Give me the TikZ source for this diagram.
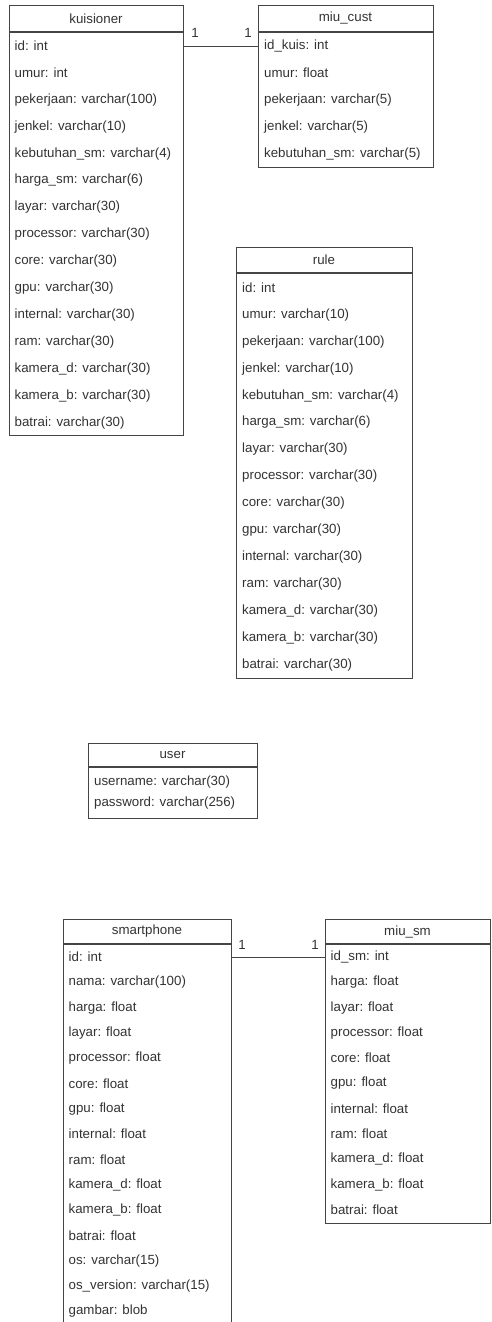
\documentclass[tikz,border=0pt]{standalone}
\usepackage{fontspec}
\setmainfont{Liberation Sans}
\definecolor{linec}{HTML}{454545}
\definecolor{textc}{HTML}{333333}
\newcommand{\attrfont}{\fontsize{13.3}{15}\selectfont}
\begin{document}
\begin{tikzpicture}[x=1pt,y=-1pt,
  tbl/.style={draw=linec, line width=0.9pt, inner sep=0pt, fill=white},
  hdr/.style={draw=linec, line width=1.5pt},
  attr/.style={anchor=west, inner sep=0pt, font=\attrfont, text=textc},
  ttl/.style={inner sep=0pt, font=\attrfont, text=textc},
  rel/.style={draw=linec, line width=0.9pt},
  card/.style={inner sep=0pt, font=\attrfont, text=textc}]
\useasboundingbox[fill=white] (0,0) rectangle (491,1322);

% kuisioner
\node[tbl, minimum width=174pt, minimum height=430pt] (kuis) at (96,220) {};
\draw[hdr] (9,32) -- (183,32);
\node[ttl] (kuisT) at (96,18.5) {kuisioner};
\foreach [count=\i] \t in {id: int, umur: int, pekerjaan: varchar(100), jenkel: varchar(10),
  kebutuhan\_sm: varchar(4), harga\_sm: varchar(6), layar: varchar(30), processor: varchar(30),
  core: varchar(30), gpu: varchar(30), internal: varchar(30), ram: varchar(30),
  kamera\_d: varchar(30), kamera\_b: varchar(30), batrai: varchar(30)}
  \node[attr] (k\i) at (14.5,{46+(\i-1)*26.9}) {\t};

% miu_cust
\node[tbl, minimum width=175pt, minimum height=162pt] (mc) at (345.5,86) {};
\draw[hdr] (258,32) -- (433,32);
\node[ttl] (mcT) at (345.5,18.5) {miu\_cust};
\foreach [count=\i] \t in {id\_kuis: int, umur: float, pekerjaan: varchar(5), jenkel: varchar(5),
  kebutuhan\_sm: varchar(5)}
  \node[attr] (mc\i) at (264,{46+(\i-1)*26.9}) {\t};

\draw[rel] (kuis.east |- k1) -- (mc.west |- k1);
\node[card] (c1) at (195,33) {1};
\node[card] (c2) at (248,33) {1};

% rule
\node[tbl, minimum width=176pt, minimum height=431pt] (rule) at (324,462.5) {};
\draw[hdr] (236,273) -- (412,273);
\node[ttl] (ruleT) at (324,260) {rule};
\foreach [count=\i] \t in {id: int, umur: varchar(10), pekerjaan: varchar(100), jenkel: varchar(10),
  kebutuhan\_sm: varchar(4), harga\_sm: varchar(6), layar: varchar(30), processor: varchar(30),
  core: varchar(30), gpu: varchar(30), internal: varchar(30), ram: varchar(30),
  kamera\_d: varchar(30), kamera\_b: varchar(30), batrai: varchar(30)}
  \node[attr] (r\i) at (242,{288+(\i-1)*26.9}) {\t};

% user
\node[tbl, minimum width=169pt, minimum height=75pt] (user) at (172.5,780.5) {};
\draw[hdr] (88,767) -- (257,767);
\node[ttl] (userT) at (172.5,755) {user};
\node[attr] (u1) at (94,782) {username: varchar(30)};
\node[attr] (u2) at (94,803) {password: varchar(256)};

% smartphone
\node[tbl, minimum width=168pt, minimum height=420pt] (sp) at (147,1129) {};
\draw[hdr] (63,944) -- (231,944);
\node[ttl] (spT) at (147,931.5) {smartphone};
\foreach [count=\i] \t in {id: int, nama: varchar(100), harga: float, layar: float, processor: float,
  core: float, gpu: float, internal: float, ram: float, kamera\_d: float, kamera\_b: float,
  batrai: float, os: varchar(15), os\_version: varchar(15), gambar: blob}
  \node[attr] (s\i) at (68.5,{957+(\i-1)*25.3}) {\t};

% miu_sm
\node[tbl, minimum width=165pt, minimum height=304pt] (ms) at (407.5,1071) {};
\draw[hdr] (325,944) -- (490,944);
\node[ttl] (msT) at (407.5,931.5) {miu\_sm};
\foreach [count=\i] \t in {id\_sm: int, harga: float, layar: float, processor: float, core: float,
  gpu: float, internal: float, ram: float, kamera\_d: float, kamera\_b: float, batrai: float}
  \node[attr] (ms\i) at (330.5,{957+(\i-1)*25.3}) {\t};

\draw[rel] (sp.east |- s1) -- (ms.west |- s1);
\node[card] (c3) at (242,945) {1};
\node[card] (c4) at (315,945) {1};
\end{tikzpicture}
\end{document}
